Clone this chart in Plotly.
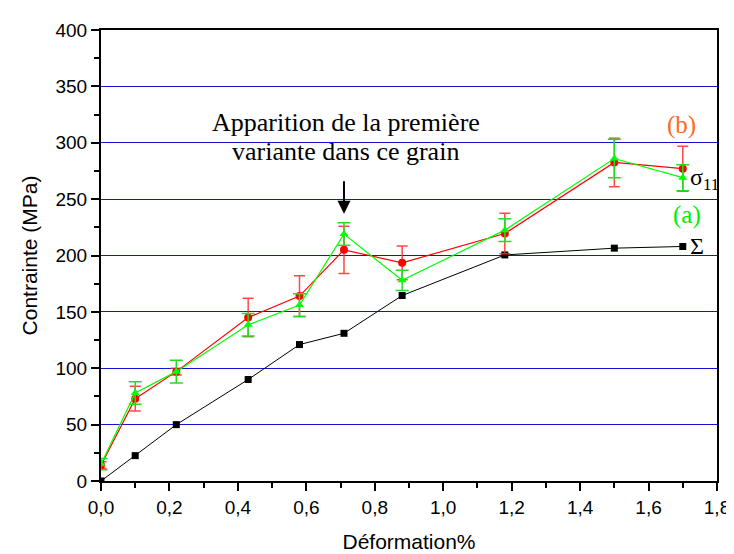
import plotly.graph_objects as go

# strain (%) values
x_sigma = [0.0, 0.10, 0.22, 0.43, 0.58, 0.71, 0.88, 1.18, 1.50, 1.70]
x_pts = [0.0, 0.10, 0.22, 0.43, 0.58, 0.71, 0.88, 1.18, 1.50, 1.70]

# macroscopic stress Sigma (a)
sigma_macro = [0, 22.5, 50, 90, 121, 131, 164.5, 200.5, 206.5, 208]

# grain stress sigma11 (b) red
sigma11_red = [14, 73, 97, 145, 164, 205, 193.5, 219.5, 282.5, 277]
err_red = [3, 11, 3, 17, 18, 21, 15, 18, 21.5, 20]

# grain stress sigma11 (a) green
sigma11_green = [15, 78, 97, 138.5, 156, 219, 178, 222.5, 286, 269]
err_green = [5, 10, 10, 10, 10, 10, 9, 10, 17, 11.5]

x_ticks = [0.0, 0.2, 0.4, 0.6, 0.8, 1.0, 1.2, 1.4, 1.6, 1.8]
x_ticklabels = ["0,0", "0,2", "0,4", "0,6", "0,8", "1,0", "1,2", "1,4", "1,6", "1,8"]
y_ticks = [0, 50, 100, 150, 200, 250, 300, 350, 400]

fig = go.Figure()

fig.add_trace(go.Scatter(
    x=x_sigma, y=sigma_macro, mode="lines+markers",
    line=dict(color="black", width=1),
    marker=dict(symbol="square", size=7, color="black"),
    showlegend=False))

fig.add_trace(go.Scatter(
    x=x_pts, y=sigma11_red, mode="lines+markers",
    line=dict(color="#ff0000", width=1.2),
    marker=dict(symbol="circle", size=8, color="#ff0000"),
    error_y=dict(type="data", array=err_red, color="rgba(255,40,40,0.85)", thickness=1.5, width=5.5),
    showlegend=False))

fig.add_trace(go.Scatter(
    x=x_pts, y=sigma11_green, mode="lines+markers",
    line=dict(color="#00ff00", width=1.2),
    marker=dict(symbol="triangle-up", size=8, color="#00ff00"),
    error_y=dict(type="data", array=err_green, color="#22dd22", thickness=1.5, width=6.5),
    showlegend=False))

serif = "Liberation Serif, Times New Roman, serif"

annotations = [
    dict(x=0.715, y=318, xref="x", yref="y", text="Apparition de la première",
         showarrow=False, font=dict(family=serif, size=26, color="black")),
    dict(x=0.715, y=292, xref="x", yref="y", text="variante dans ce grain",
         showarrow=False, font=dict(family=serif, size=26, color="black")),
    dict(x=0.71, y=237, xref="x", yref="y", text="", showarrow=True,
         ax=0, ay=-34, arrowhead=2, arrowsize=1.3, arrowwidth=2, arrowcolor="black"),
    dict(x=1.696, y=316, xref="x", yref="y", text="(b)", showarrow=False,
         font=dict(family=serif, size=25, color="#ff6a1a")),
    dict(x=1.711, y=236, xref="x", yref="y", text="(a)", showarrow=False,
         font=dict(family=serif, size=25, color="#00ee00")),
    dict(x=1.716, y=268, xref="x", yref="y", text="σ<sub>11</sub>", showarrow=False,
         xanchor="left", font=dict(family=serif, size=24, color="black")),
    dict(x=1.716, y=208, xref="x", yref="y", text="Σ", showarrow=False,
         xanchor="left", font=dict(family=serif, size=24, color="black")),
]

fig.update_layout(
    width=734, height=554,
    margin=dict(l=93, r=15, t=18, b=73),
    paper_bgcolor="white", plot_bgcolor="white",
    font=dict(family="Liberation Sans, Arial, sans-serif", color="black"),
    annotations=annotations,
)

fig.update_xaxes(
    range=[0, 1.8], tickvals=x_ticks, ticktext=x_ticklabels,
    showgrid=False, zeroline=False,
    showline=True, linecolor="black", linewidth=2, mirror=True,
    ticks="outside", ticklen=8, tickwidth=1.5, tickcolor="black",
    minor=dict(dtick=0.1, ticks="outside", ticklen=5, tickwidth=1.5, tickcolor="black", showgrid=False),
    tickfont=dict(size=19),
    title=dict(text="Déformation%", font=dict(size=21), standoff=18),
)

fig.update_yaxes(
    range=[0, 400], tickvals=y_ticks,
    showgrid=True, gridcolor="#1414d2", gridwidth=1, zeroline=False,
    showline=True, linecolor="black", linewidth=2, mirror=True,
    ticks="outside", ticklen=8, tickwidth=1.5, tickcolor="black",
    minor=dict(dtick=25, ticks="outside", ticklen=5, tickwidth=1.5, tickcolor="black", showgrid=False),
    tickfont=dict(size=19),
    title=dict(text="Contrainte (MPa)", font=dict(size=21), standoff=12),
)

fig.write_html("out.html")
